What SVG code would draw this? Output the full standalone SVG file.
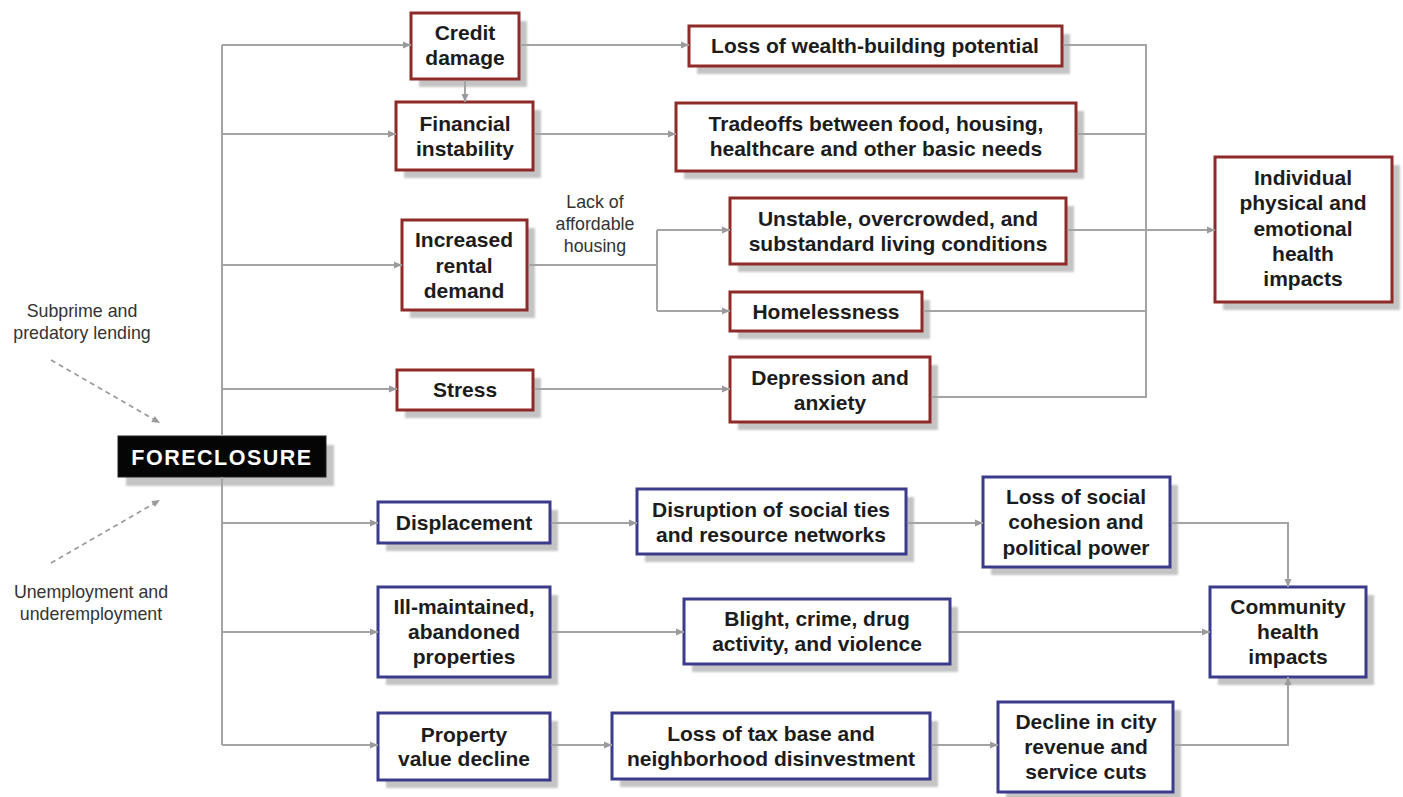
<svg xmlns="http://www.w3.org/2000/svg" width="1403" height="797" viewBox="0 0 1403 797">
<defs>
<marker id="arr" markerUnits="userSpaceOnUse" markerWidth="10" markerHeight="10" refX="9" refY="5" orient="auto">
<path d="M1,1.5 L9,5 L1,8.5 Z" fill="#9a9a9a"/>
</marker>
<filter id="blur" x="-10%" y="-10%" width="120%" height="120%"><feGaussianBlur stdDeviation="0.8"/></filter>
</defs>
<style>
.sh{fill:#c4c4c4;filter:url(#blur)}
.r{fill:#fff;stroke:#8e2a27;stroke-width:3}
.b{fill:#fff;stroke:#3b3b8c;stroke-width:3}
.t{font-family:"Liberation Sans",Arial,sans-serif;font-weight:bold;font-size:21px;fill:#1c1c1c;text-anchor:middle}
.s{font-family:"Liberation Sans",Arial,sans-serif;font-size:17.8px;fill:#333;text-anchor:middle}
.c{fill:none;stroke:#a4a4a4;stroke-width:2}
.d{fill:none;stroke:#9a9a9a;stroke-width:1.6;stroke-dasharray:5,4}
</style>
<rect width="1403" height="797" fill="#fff"/>

<g id="label-subprime"><text class="s" x="82" y="317">Subprime and</text><text class="s" x="82" y="339">predatory lending</text></g>
<g id="label-unemployment"><text class="s" x="91" y="598">Unemployment and</text><text class="s" x="91" y="620">underemployment</text></g>
<g id="label-lack"><text class="s" x="595" y="208">Lack of</text><text class="s" x="595" y="230">affordable</text><text class="s" x="595" y="252">housing</text></g>

<g id="foreclosure">
<rect class="sh" x="126" y="445" width="208" height="41"/>
<rect x="118" y="436" width="208" height="41" fill="#050505" stroke="#222" stroke-width="1"/>
<text x="222" y="465" font-family="Liberation Sans,Arial,sans-serif" font-weight="bold" font-size="21.5px" fill="#fff" text-anchor="middle" letter-spacing="1.5">FORECLOSURE</text>
</g>

<g id="credit-damage">
<rect class="sh" x="419" y="21" width="108" height="66"/>
<rect class="r" x="411" y="13" width="108" height="66"/>
<text class="t" x="465" y="40">Credit</text><text class="t" x="465" y="65">damage</text>
</g>
<g id="financial-instability">
<rect class="sh" x="404" y="110" width="137" height="68"/>
<rect class="r" x="396" y="102" width="137" height="68"/>
<text class="t" x="465" y="131">Financial</text><text class="t" x="465" y="156">instability</text>
</g>
<g id="loss-wealth">
<rect class="sh" x="697" y="34" width="373" height="40"/>
<rect class="r" x="689" y="26" width="373" height="40"/>
<text class="t" x="875" y="53">Loss of wealth-building potential</text>
</g>
<g id="tradeoffs">
<rect class="sh" x="684" y="111" width="400" height="68"/>
<rect class="r" x="676" y="103" width="400" height="68"/>
<text class="t" x="876" y="131">Tradeoffs between food, housing,</text><text class="t" x="876" y="156">healthcare and other basic needs</text>
</g>
<g id="increased-rental">
<rect class="sh" x="410" y="228" width="125" height="90"/>
<rect class="r" x="402" y="220" width="125" height="90"/>
<text class="t" x="464" y="247">Increased</text><text class="t" x="464" y="273">rental</text><text class="t" x="464" y="298">demand</text>
</g>
<g id="unstable">
<rect class="sh" x="738" y="206" width="336" height="66"/>
<rect class="r" x="730" y="198" width="336" height="66"/>
<text class="t" x="898" y="226">Unstable, overcrowded, and</text><text class="t" x="898" y="251">substandard living conditions</text>
</g>
<g id="homelessness">
<rect class="sh" x="738" y="300" width="192" height="39"/>
<rect class="r" x="730" y="292" width="192" height="39"/>
<text class="t" x="826" y="319">Homelessness</text>
</g>
<g id="stress">
<rect class="sh" x="405" y="378" width="136" height="40"/>
<rect class="r" x="397" y="370" width="136" height="40"/>
<text class="t" x="465" y="397">Stress</text>
</g>
<g id="depression">
<rect class="sh" x="738" y="365" width="200" height="65"/>
<rect class="r" x="730" y="357" width="200" height="65"/>
<text class="t" x="830" y="385">Depression and</text><text class="t" x="830" y="410">anxiety</text>
</g>
<g id="individual">
<rect class="sh" x="1223" y="165" width="177" height="145"/>
<rect class="r" x="1215" y="157" width="177" height="145"/>
<text class="t" x="1303" y="185">Individual</text><text class="t" x="1303" y="210">physical and</text><text class="t" x="1303" y="236">emotional</text><text class="t" x="1303" y="261">health</text><text class="t" x="1303" y="286">impacts</text>
</g>

<g id="displacement">
<rect class="sh" x="386" y="510" width="172" height="41"/>
<rect class="b" x="378" y="502" width="172" height="41"/>
<text class="t" x="464" y="530">Displacement</text>
</g>
<g id="disruption">
<rect class="sh" x="645" y="497" width="269" height="65"/>
<rect class="b" x="637" y="489" width="269" height="65"/>
<text class="t" x="771" y="517">Disruption of social ties</text><text class="t" x="771" y="542">and resource networks</text>
</g>
<g id="loss-social">
<rect class="sh" x="991" y="485" width="187" height="90"/>
<rect class="b" x="983" y="477" width="187" height="90"/>
<text class="t" x="1076" y="504">Loss of social</text><text class="t" x="1076" y="529">cohesion and</text><text class="t" x="1076" y="555">political power</text>
</g>
<g id="ill-maintained">
<rect class="sh" x="386" y="595" width="172" height="90"/>
<rect class="b" x="378" y="587" width="172" height="90"/>
<text class="t" x="464" y="614">Ill-maintained,</text><text class="t" x="464" y="639">abandoned</text><text class="t" x="464" y="664">properties</text>
</g>
<g id="blight">
<rect class="sh" x="692" y="607" width="266" height="65"/>
<rect class="b" x="684" y="599" width="266" height="65"/>
<text class="t" x="817" y="626">Blight, crime, drug</text><text class="t" x="817" y="651">activity, and violence</text>
</g>
<g id="community">
<rect class="sh" x="1218" y="595" width="156" height="90"/>
<rect class="b" x="1210" y="587" width="156" height="90"/>
<text class="t" x="1288" y="614">Community</text><text class="t" x="1288" y="639">health</text><text class="t" x="1288" y="664">impacts</text>
</g>
<g id="property-value">
<rect class="sh" x="386" y="721" width="172" height="67"/>
<rect class="b" x="378" y="713" width="172" height="67"/>
<text class="t" x="464" y="742">Property</text><text class="t" x="464" y="766">value decline</text>
</g>
<g id="loss-tax">
<rect class="sh" x="620" y="721" width="318" height="66"/>
<rect class="b" x="612" y="713" width="318" height="66"/>
<text class="t" x="771" y="741">Loss of tax base and</text><text class="t" x="771" y="766">neighborhood disinvestment</text>
</g>
<g id="decline-city">
<rect class="sh" x="1006" y="710" width="175" height="90"/>
<rect class="b" x="998" y="702" width="175" height="90"/>
<text class="t" x="1086" y="729">Decline in city</text><text class="t" x="1086" y="754">revenue and</text><text class="t" x="1086" y="779">service cuts</text>
</g>

<g id="connectors">
<path class="c" d="M222,45 V436"/>
<path class="c" d="M222,477 V745"/>
<path class="c" d="M222,45 H411" marker-end="url(#arr)"/>
<path class="c" d="M222,134 H396" marker-end="url(#arr)"/>
<path class="c" d="M222,265 H402" marker-end="url(#arr)"/>
<path class="c" d="M222,389 H397" marker-end="url(#arr)"/>
<path class="c" d="M222,523 H378" marker-end="url(#arr)"/>
<path class="c" d="M222,632 H378" marker-end="url(#arr)"/>
<path class="c" d="M222,745 H378" marker-end="url(#arr)"/>
<path class="c" d="M465,80.5 V102" marker-end="url(#arr)"/>
<path class="c" d="M520.5,45 H689" marker-end="url(#arr)"/>
<path class="c" d="M534.5,134 H676" marker-end="url(#arr)"/>
<path class="c" d="M528.5,265 H657"/>
<path class="c" d="M657,230 V311"/>
<path class="c" d="M657,230 H730" marker-end="url(#arr)"/>
<path class="c" d="M657,311 H730" marker-end="url(#arr)"/>
<path class="c" d="M534.5,389 H730" marker-end="url(#arr)"/>
<path class="c" d="M1063.5,45 H1146 V397 H931.5"/>
<path class="c" d="M1077.5,134 H1146"/>
<path class="c" d="M923.5,311 H1146"/>
<path class="c" d="M1067.5,230 H1215" marker-end="url(#arr)"/>
<path class="c" d="M551.5,523 H637" marker-end="url(#arr)"/>
<path class="c" d="M907.5,523 H983" marker-end="url(#arr)"/>
<path class="c" d="M1171.5,523 H1288 V587" marker-end="url(#arr)"/>
<path class="c" d="M551.5,632 H684" marker-end="url(#arr)"/>
<path class="c" d="M951.5,632 H1210" marker-end="url(#arr)"/>
<path class="c" d="M551.5,745 H612" marker-end="url(#arr)"/>
<path class="c" d="M931.5,745 H998" marker-end="url(#arr)"/>
<path class="c" d="M1174.5,745 H1288 V677" marker-end="url(#arr)"/>
<path class="d" d="M51,360 L160,423" marker-end="url(#arr)"/>
<path class="d" d="M51,563 L160,500" marker-end="url(#arr)"/>
</g>
</svg>
